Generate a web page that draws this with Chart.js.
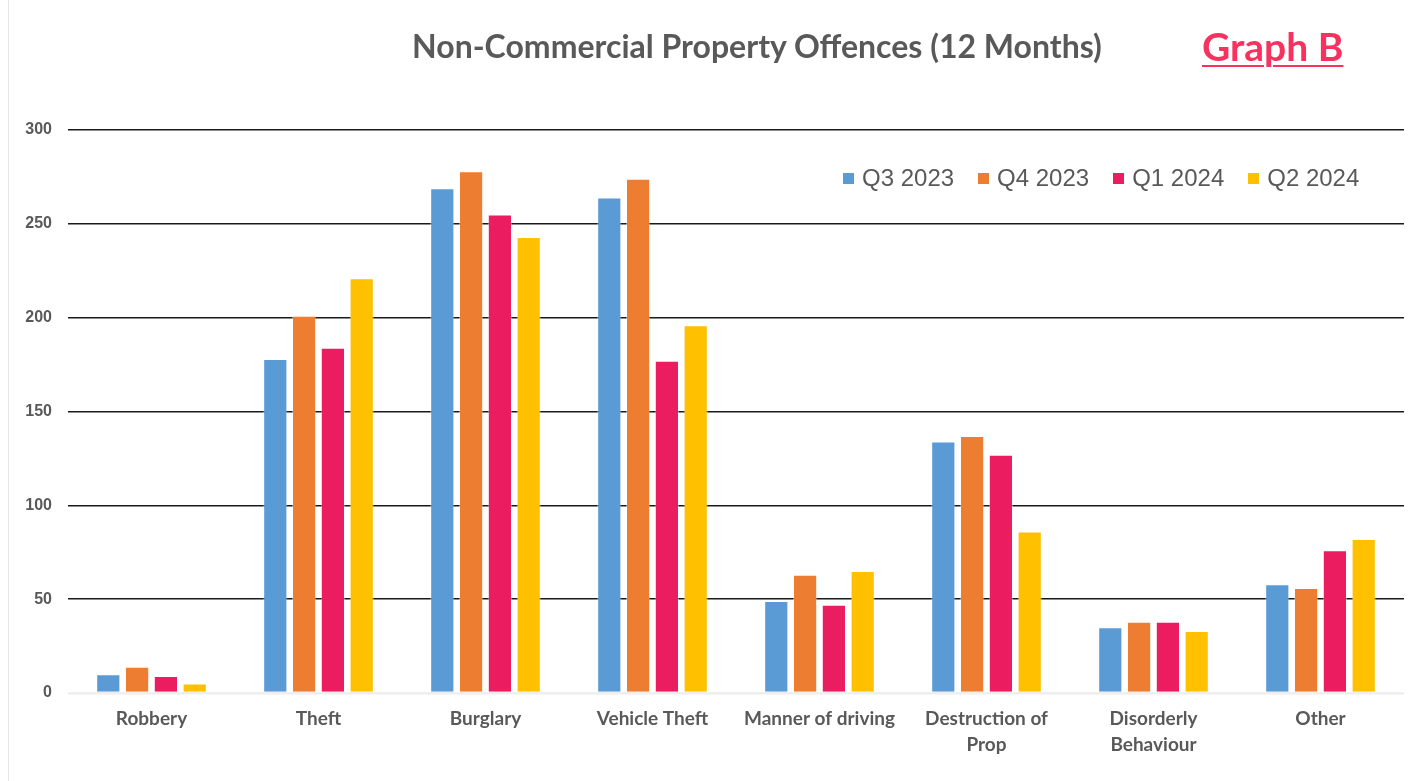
<!DOCTYPE html>
<html>
<head>
<meta charset="utf-8">
<script src="https://cdn.jsdelivr.net/npm/chart.js@4.4.1/dist/chart.umd.min.js"></script>
<style>
  html, body { margin: 0; padding: 0; background: #fff; }
  #wrap { position: relative; width: 1411px; height: 781px; }
  #frame { position: absolute; left: 8px; top: 0; bottom: 0; border-left: 1px solid #e6e6e6; }
  #title {
    position: absolute; top: 26px; left: 0; width: 1514px; text-align: center;
    font: bold 32px Lato, "Open Sans", sans-serif; color: #595959;
  }
  #tag {
    position: absolute; top: 23px; left: 1202px;
    font: bold 39px Lato, "Open Sans", sans-serif; color: #f7325f;
    text-decoration: underline; text-decoration-thickness: 2px; text-underline-offset: 4px;
  }
  #legend {
    position: absolute; top: 164px; left: 843px; display: flex;
    font: 24px "Liberation Sans", Arial, sans-serif; color: #595959;
  }
  #legend span.item { display: flex; align-items: center; margin-right: 24px; }
  #legend span.box { width: 11px; height: 11px; margin-right: 8px; display: inline-block; }
</style>
</head>
<body>
<div id="wrap">
  <div id="frame"></div>
  <canvas id="chart"></canvas>
  <div id="title">Non-Commercial Property Offences (12 Months)</div>
  <div id="tag">Graph B</div>
  <div id="legend"></div>
</div>
<script>
const categories = [
  "Robbery", "Theft", "Burglary", "Vehicle Theft", "Manner of driving",
  ["Destruction of", "Prop"], ["Disorderly", "Behaviour"], "Other"
];
const seriesNames = ["Q3 2023", "Q4 2023", "Q1 2024", "Q2 2024"];
const q3_2023 = [10, 178, 269, 264, 49, 134, 35, 58];
const q4_2023 = [14, 201, 278, 274, 63, 137, 38, 56];
const q1_2024 = [9, 184, 255, 177, 47, 127, 38, 76];
const q2_2024 = [5, 221, 243, 196, 65, 86, 33, 82];
const colors = ["#5b9bd5", "#ed7d31", "#eb1c5f", "#ffc000"];

const values = [q3_2023, q4_2023, q1_2024, q2_2024];

const datasets = seriesNames.map((name, i) => ({
  label: name,
  data: values[i],
  backgroundColor: colors[i],
  borderColor: "rgba(255,255,255,0.35)",
  borderWidth: 1,
  categoryPercentage: 0.69,
  barPercentage: 0.84
}));

// legend drawn as html, same order as the datasets
const legend = document.getElementById("legend");
for (let i = 0; i < seriesNames.length; i++) {
  const item = document.createElement("span");
  item.className = "item";
  const box = document.createElement("span");
  box.className = "box";
  box.style.background = colors[i];
  item.appendChild(box);
  item.appendChild(document.createTextNode(seriesNames[i]));
  legend.appendChild(item);
}

const canvas = document.getElementById("chart");
canvas.width = 1411;
canvas.height = 781;

new Chart(canvas, {
  type: "bar",
  data: { labels: categories, datasets },
  options: {
    responsive: false,
    animation: false,
    layout: { padding: { top: 130, left: 8, right: 7, bottom: 0 } },
    plugins: {
      legend: { display: false },
      tooltip: { enabled: false }
    },
    scales: {
      x: {
        grid: { display: false },
        border: { display: false },
        ticks: {
          color: "#595959",
          font: { family: "Lato", size: 19, weight: "bold", lineHeight: 1.37 },
          padding: 5,
          maxRotation: 0,
          autoSkip: false
        },
        afterFit: (scale) => { scale.height = 88; }
      },
      y: {
        min: 0,
        max: 300,
        border: { display: false },
        grid: {
          drawTicks: false,
          color: (ctx) => ctx.tick && ctx.tick.value === 0 ? "#eeeeee" : "#1a1a1a",
          lineWidth: (ctx) => ctx.tick && ctx.tick.value === 0 ? 2.5 : 1.6
        },
        ticks: {
          stepSize: 50,
          color: "#595959",
          font: { family: "Liberation Sans", size: 16, weight: "bold" },
          padding: 16
        },
        afterFit: (scale) => { scale.width = 60; }
      }
    }
  }
});
</script>
</body>
</html>
